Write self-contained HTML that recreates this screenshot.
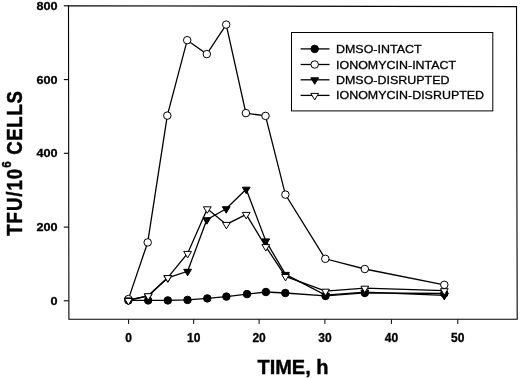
<!DOCTYPE html>
<html><head><meta charset="utf-8"><title>chart</title>
<style>
html,body{margin:0;padding:0;background:#fff;}
svg{display:block;}
text{font-family:"Liberation Sans",sans-serif;fill:#000;}
.tk{font-size:12px;font-weight:bold;stroke:#000;stroke-width:0.3px;}
.lg{font-size:11.6px;stroke:#000;stroke-width:0.3px;}
.ax{font-size:20px;font-weight:bold;stroke:#000;stroke-width:0.4px;}
</style></head><body>
<svg width="520" height="378" viewBox="0 0 520 378">
<rect width="520" height="378" fill="#fff"/>
<polygon points="68.5,5.8 516.5,6.6 517.2,319.3 68.9,319.2" fill="none" stroke="#000" stroke-width="1.1"/>
<line x1="63.8" x2="68.8" y1="300.8" y2="300.8" stroke="#000" stroke-width="1.1"/>
<text transform="translate(57.6,304.9) scale(1.09,1)" text-anchor="end" class="tk" style="font-size:11.6px">0</text>
<line x1="63.8" x2="68.8" y1="227.1" y2="227.1" stroke="#000" stroke-width="1.1"/>
<text transform="translate(57.6,231.2) scale(1.09,1)" text-anchor="end" class="tk" style="font-size:11.6px">200</text>
<line x1="63.8" x2="68.8" y1="153.3" y2="153.3" stroke="#000" stroke-width="1.1"/>
<text transform="translate(57.6,157.4) scale(1.09,1)" text-anchor="end" class="tk" style="font-size:11.6px">400</text>
<line x1="63.8" x2="68.8" y1="79.6" y2="79.6" stroke="#000" stroke-width="1.1"/>
<text transform="translate(57.6,83.7) scale(1.09,1)" text-anchor="end" class="tk" style="font-size:11.6px">600</text>
<line x1="63.8" x2="68.8" y1="5.8" y2="5.8" stroke="#000" stroke-width="1.1"/>
<text transform="translate(57.6,9.9) scale(1.09,1)" text-anchor="end" class="tk" style="font-size:11.6px">800</text>
<line x1="128.6" x2="128.6" y1="319.4" y2="323.9" stroke="#000" stroke-width="1"/>
<text x="128.6" y="341.8" text-anchor="middle" class="tk">0</text>
<line x1="193.7" x2="193.7" y1="319.4" y2="323.9" stroke="#000" stroke-width="1"/>
<text x="193.7" y="341.8" text-anchor="middle" class="tk">10</text>
<line x1="259.1" x2="259.1" y1="319.4" y2="323.9" stroke="#000" stroke-width="1"/>
<text x="259.1" y="341.8" text-anchor="middle" class="tk">20</text>
<line x1="324.9" x2="324.9" y1="319.4" y2="323.9" stroke="#000" stroke-width="1"/>
<text x="324.9" y="341.8" text-anchor="middle" class="tk">30</text>
<line x1="391.4" x2="391.4" y1="319.4" y2="323.9" stroke="#000" stroke-width="1"/>
<text x="391.4" y="341.8" text-anchor="middle" class="tk">40</text>
<line x1="457.8" x2="457.8" y1="319.4" y2="323.9" stroke="#000" stroke-width="1"/>
<text x="457.8" y="341.8" text-anchor="middle" class="tk">50</text>
<polyline fill="none" stroke="#000" stroke-width="1.3" points="128.4,300.4 148.2,300.4 167.8,300.4 187.5,299.9 207.3,298.4 226.4,296.6 247.0,294.1 265.9,292.0 285.3,293.0 325.5,295.9 364.8,292.9 444.3,293.5"/>
<circle cx="128.4" cy="300.4" r="3.75" fill="#000" stroke="#000" stroke-width="1"/>
<circle cx="148.2" cy="300.4" r="3.75" fill="#000" stroke="#000" stroke-width="1"/>
<circle cx="167.8" cy="300.4" r="3.75" fill="#000" stroke="#000" stroke-width="1"/>
<circle cx="187.5" cy="299.9" r="3.75" fill="#000" stroke="#000" stroke-width="1"/>
<circle cx="207.3" cy="298.4" r="3.75" fill="#000" stroke="#000" stroke-width="1"/>
<circle cx="226.4" cy="296.6" r="3.75" fill="#000" stroke="#000" stroke-width="1"/>
<circle cx="247.0" cy="294.1" r="3.75" fill="#000" stroke="#000" stroke-width="1"/>
<circle cx="265.9" cy="292.0" r="3.75" fill="#000" stroke="#000" stroke-width="1"/>
<circle cx="285.3" cy="293.0" r="3.75" fill="#000" stroke="#000" stroke-width="1"/>
<circle cx="325.5" cy="295.9" r="3.75" fill="#000" stroke="#000" stroke-width="1"/>
<circle cx="364.8" cy="292.9" r="3.75" fill="#000" stroke="#000" stroke-width="1"/>
<circle cx="444.3" cy="293.5" r="3.75" fill="#000" stroke="#000" stroke-width="1"/>
<polyline fill="none" stroke="#000" stroke-width="1.3" points="128.4,299.1 147.7,242.4 167.3,115.6 187.2,40.2 206.8,54.1 226.2,24.6 245.9,113.1 265.5,115.9 285.4,194.6 325.3,258.8 364.8,269.0 444.3,284.8"/>
<circle cx="128.4" cy="299.1" r="3.75" fill="#fff" stroke="#000" stroke-width="1"/>
<circle cx="147.7" cy="242.4" r="3.75" fill="#fff" stroke="#000" stroke-width="1"/>
<circle cx="167.3" cy="115.6" r="3.75" fill="#fff" stroke="#000" stroke-width="1"/>
<circle cx="187.2" cy="40.2" r="3.75" fill="#fff" stroke="#000" stroke-width="1"/>
<circle cx="206.8" cy="54.1" r="3.75" fill="#fff" stroke="#000" stroke-width="1"/>
<circle cx="226.2" cy="24.6" r="3.75" fill="#fff" stroke="#000" stroke-width="1"/>
<circle cx="245.9" cy="113.1" r="3.75" fill="#fff" stroke="#000" stroke-width="1"/>
<circle cx="265.5" cy="115.9" r="3.75" fill="#fff" stroke="#000" stroke-width="1"/>
<circle cx="285.4" cy="194.6" r="3.75" fill="#fff" stroke="#000" stroke-width="1"/>
<circle cx="325.3" cy="258.8" r="3.75" fill="#fff" stroke="#000" stroke-width="1"/>
<circle cx="364.8" cy="269.0" r="3.75" fill="#fff" stroke="#000" stroke-width="1"/>
<circle cx="444.3" cy="284.8" r="3.75" fill="#fff" stroke="#000" stroke-width="1"/>
<polyline fill="none" stroke="#000" stroke-width="1.3" points="128.4,299.9 148.2,296.1 167.8,277.8 187.6,271.3 206.8,219.7 226.2,208.7 246.2,189.2 265.8,240.9 285.5,274.4 325.5,295.1 364.8,292.1 444.3,295.4"/>
<polygon points="124.5,297.9 132.3,297.9 128.4,304.4" fill="#000" stroke="#000" stroke-width="1"/>
<polygon points="144.3,294.1 152.1,294.1 148.2,300.6" fill="#000" stroke="#000" stroke-width="1"/>
<polygon points="163.9,275.8 171.7,275.8 167.8,282.3" fill="#000" stroke="#000" stroke-width="1"/>
<polygon points="183.7,269.3 191.5,269.3 187.6,275.8" fill="#000" stroke="#000" stroke-width="1"/>
<polygon points="202.9,217.7 210.7,217.7 206.8,224.2" fill="#000" stroke="#000" stroke-width="1"/>
<polygon points="222.3,206.7 230.1,206.7 226.2,213.2" fill="#000" stroke="#000" stroke-width="1"/>
<polygon points="242.3,187.2 250.1,187.2 246.2,193.7" fill="#000" stroke="#000" stroke-width="1"/>
<polygon points="261.9,238.9 269.7,238.9 265.8,245.4" fill="#000" stroke="#000" stroke-width="1"/>
<polygon points="281.6,272.4 289.4,272.4 285.5,278.9" fill="#000" stroke="#000" stroke-width="1"/>
<polygon points="321.6,293.1 329.4,293.1 325.5,299.6" fill="#000" stroke="#000" stroke-width="1"/>
<polygon points="360.9,290.1 368.7,290.1 364.8,296.6" fill="#000" stroke="#000" stroke-width="1"/>
<polygon points="440.4,293.4 448.2,293.4 444.3,299.9" fill="#000" stroke="#000" stroke-width="1"/>
<polyline fill="none" stroke="#000" stroke-width="1.3" points="128.4,300.5 148.2,295.7 167.8,277.6 187.6,253.4 207.3,208.8 226.4,224.4 246.2,214.4 265.8,246.6 285.5,276.4 325.5,291.2 364.8,288.2 444.3,290.7"/>
<polygon points="124.5,298.5 132.3,298.5 128.4,305.0" fill="#fff" stroke="#000" stroke-width="1"/>
<polygon points="144.3,293.7 152.1,293.7 148.2,300.2" fill="#fff" stroke="#000" stroke-width="1"/>
<polygon points="163.9,275.6 171.7,275.6 167.8,282.1" fill="#fff" stroke="#000" stroke-width="1"/>
<polygon points="183.7,251.4 191.5,251.4 187.6,257.9" fill="#fff" stroke="#000" stroke-width="1"/>
<polygon points="203.4,206.8 211.2,206.8 207.3,213.3" fill="#fff" stroke="#000" stroke-width="1"/>
<polygon points="222.5,222.4 230.3,222.4 226.4,228.9" fill="#fff" stroke="#000" stroke-width="1"/>
<polygon points="242.3,212.4 250.1,212.4 246.2,218.9" fill="#fff" stroke="#000" stroke-width="1"/>
<polygon points="261.9,244.6 269.7,244.6 265.8,251.1" fill="#fff" stroke="#000" stroke-width="1"/>
<polygon points="281.6,274.4 289.4,274.4 285.5,280.9" fill="#fff" stroke="#000" stroke-width="1"/>
<polygon points="321.6,289.2 329.4,289.2 325.5,295.7" fill="#fff" stroke="#000" stroke-width="1"/>
<polygon points="360.9,286.2 368.7,286.2 364.8,292.7" fill="#fff" stroke="#000" stroke-width="1"/>
<polygon points="440.4,288.7 448.2,288.7 444.3,295.2" fill="#fff" stroke="#000" stroke-width="1"/>
<rect x="291.5" y="32.5" width="201.3" height="78.4" fill="#fff" stroke="#000" stroke-width="1"/>
<line x1="300.6" x2="329.5" y1="48.9" y2="48.9" stroke="#000" stroke-width="1.3"/>
<circle cx="314.7" cy="48.9" r="3.75" fill="#000" stroke="#000" stroke-width="1"/>
<text transform="translate(336,52.9) scale(1.075,1)" class="lg">DMSO-INTACT</text>
<line x1="300.6" x2="329.5" y1="64.5" y2="64.5" stroke="#000" stroke-width="1.3"/>
<circle cx="314.7" cy="64.5" r="3.75" fill="#fff" stroke="#000" stroke-width="1"/>
<text transform="translate(336,68.5) scale(1.075,1)" class="lg">IONOMYCIN-INTACT</text>
<line x1="300.6" x2="329.5" y1="79.8" y2="79.8" stroke="#000" stroke-width="1.3"/>
<polygon points="310.8,77.8 318.6,77.8 314.7,84.3" fill="#000" stroke="#000" stroke-width="1"/>
<text transform="translate(336,83.8) scale(1.075,1)" class="lg">DMSO-DISRUPTED</text>
<line x1="300.6" x2="329.5" y1="95.4" y2="95.4" stroke="#000" stroke-width="1.3"/>
<polygon points="310.8,93.4 318.6,93.4 314.7,99.9" fill="#fff" stroke="#000" stroke-width="1"/>
<text transform="translate(336,99.4) scale(1.075,1)" class="lg">IONOMYCIN-DISRUPTED</text>
<text x="293" y="374.2" text-anchor="middle" class="ax">TIME, h</text>
<text transform="translate(22.1,163.1) rotate(-90) scale(1,1.15)" text-anchor="middle" class="ax" style="font-size:18.6px;letter-spacing:0.7px"><tspan style="letter-spacing:1px">TFU/10</tspan><tspan dy="-9.6" font-size="11.5px">6</tspan><tspan dy="9.6"> CELLS</tspan></text>
</svg>
</body></html>
